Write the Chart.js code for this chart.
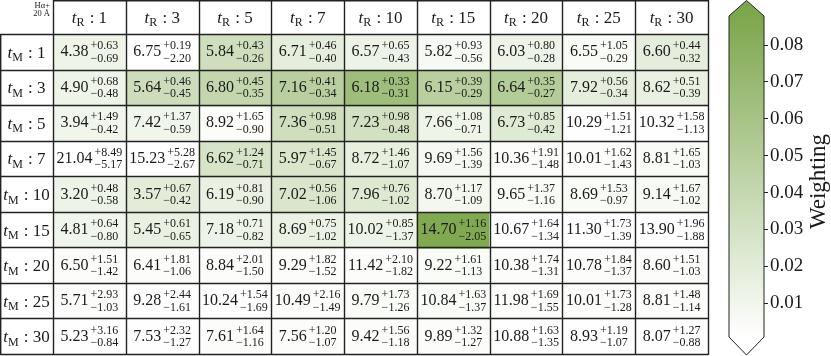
<!DOCTYPE html>
<html><head><meta charset="utf-8">
<script src="https://cdn.jsdelivr.net/npm/chart.js@4.4.1/dist/chart.umd.min.js"></script>
<style>
html,body{margin:0;padding:0;background:#fff;}
#wrap{position:relative;width:831px;height:356px;overflow:hidden;}
#main{position:absolute;left:0;top:0;}
#cb{position:absolute;left:700px;top:0;}
</style></head><body>
<div id="wrap">
<canvas id="main" width="831" height="356"></canvas>
<canvas id="cb" width="131" height="356"></canvas>
</div>
<script>
// ---- data ----
const tR = [1, 3, 5, 7, 10, 15, 20, 25, 30];
const tM = [1, 3, 5, 7, 10, 15, 20, 25, 30];
const values = [
  [4.38, 6.75, 5.84, 6.71, 6.57, 5.82, 6.03, 6.55, 6.60],
  [4.90, 5.64, 6.80, 7.16, 6.18, 6.15, 6.64, 7.92, 8.62],
  [3.94, 7.42, 8.92, 7.36, 7.23, 7.66, 6.73, 10.29, 10.32],
  [21.04, 15.23, 6.62, 5.97, 8.72, 9.69, 10.36, 10.01, 8.81],
  [3.20, 3.57, 6.19, 7.02, 7.96, 8.70, 9.65, 8.69, 9.14],
  [4.81, 5.45, 7.18, 8.69, 10.02, 14.70, 10.67, 11.30, 13.90],
  [6.50, 6.41, 8.84, 9.29, 11.42, 9.22, 10.38, 10.78, 8.60],
  [5.71, 9.28, 10.24, 10.49, 9.79, 10.84, 11.98, 10.01, 8.81],
  [5.23, 7.53, 7.61, 7.56, 9.42, 9.89, 10.88, 8.93, 8.07]
];
const errUp = [
  [0.63, 0.19, 0.43, 0.46, 0.65, 0.93, 0.80, 1.05, 0.44],
  [0.68, 0.46, 0.45, 0.41, 0.33, 0.39, 0.35, 0.56, 0.51],
  [1.49, 1.37, 1.65, 0.98, 0.98, 1.08, 0.85, 1.51, 1.58],
  [8.49, 5.28, 1.24, 1.45, 1.46, 1.56, 1.91, 1.62, 1.65],
  [0.48, 0.67, 0.81, 0.56, 0.76, 1.17, 1.37, 1.53, 1.67],
  [0.64, 0.61, 0.71, 0.75, 0.85, 1.16, 1.64, 1.73, 1.96],
  [1.51, 1.81, 2.01, 1.82, 2.10, 1.61, 1.74, 1.84, 1.51],
  [2.93, 2.44, 1.54, 2.16, 1.73, 1.63, 1.69, 1.73, 1.48],
  [3.16, 2.32, 1.64, 1.20, 1.56, 1.32, 1.63, 1.19, 1.27]
];
const errDown = [
  [0.69, 2.20, 0.26, 0.40, 0.43, 0.56, 0.28, 0.29, 0.32],
  [0.48, 0.45, 0.35, 0.34, 0.31, 0.29, 0.27, 0.34, 0.39],
  [0.42, 0.59, 0.90, 0.51, 0.48, 0.71, 0.42, 1.21, 1.13],
  [5.17, 2.67, 0.71, 0.67, 1.07, 1.39, 1.48, 1.43, 1.03],
  [0.58, 0.42, 0.90, 1.06, 1.02, 1.09, 1.16, 0.97, 1.02],
  [0.80, 0.65, 0.82, 1.02, 1.37, 2.05, 1.34, 1.39, 1.88],
  [1.42, 1.06, 1.50, 1.52, 1.82, 1.13, 1.31, 1.37, 1.03],
  [1.03, 1.61, 1.69, 1.49, 1.26, 1.37, 1.55, 1.28, 1.14],
  [0.84, 1.27, 1.16, 1.07, 1.18, 1.27, 1.35, 1.07, 0.88]
];
const weights = [
  [0.012, 0.001, 0.033, 0.018, 0.013, 0.006, 0.013, 0.005, 0.018],
  [0.012, 0.034, 0.041, 0.048, 0.065, 0.048, 0.051, 0.018, 0.015],
  [0.010, 0.010, 0.003, 0.033, 0.030, 0.012, 0.022, 0.002, 0.002],
  [0.000, 0.001, 0.028, 0.026, 0.017, 0.007, 0.003, 0.003, 0.005],
  [0.013, 0.020, 0.015, 0.026, 0.023, 0.009, 0.005, 0.005, 0.006],
  [0.010, 0.015, 0.013, 0.014, 0.013, 0.086, 0.002, 0.002, 0.001],
  [0.003, 0.003, 0.003, 0.003, 0.003, 0.004, 0.003, 0.003, 0.003],
  [0.003, 0.002, 0.002, 0.003, 0.004, 0.004, 0.003, 0.003, 0.003],
  [0.002, 0.002, 0.003, 0.003, 0.003, 0.003, 0.002, 0.002, 0.002]
];
const cbTicks = [0.01, 0.02, 0.03, 0.04, 0.05, 0.06, 0.07, 0.08];
const cMin = 0.0008, cMax = 0.0879;

// ---- style ----
const LOW = [255, 255, 255], HIGH = [125, 167, 77];
const FONT = '"Liberation Serif", "DejaVu Serif", serif';
const INK = '#1a1a1a';
function colorFor(w) {
  let t = (w - cMin) / (cMax - cMin);
  t = Math.max(0, Math.min(1, t));
  const c = LOW.map((l, k) => Math.round(l + (HIGH[k] - l) * t));
  return `rgb(${c[0]},${c[1]},${c[2]})`;
}
const fmt = v => v.toFixed(2);

function drawLabel(ctx, cx, baseY, sub, rest, size) {
  const fMain = `${size}px ${FONT}`, fIt = `italic ${size}px ${FONT}`, fSub = `${Math.round(size * 0.72)}px ${FONT}`;
  ctx.font = fIt; const wt = ctx.measureText('t').width;
  ctx.font = fSub; const ws = ctx.measureText(sub).width;
  ctx.font = fMain; const wr = ctx.measureText(' : ' + rest).width;
  const tot = wt + ws + 1 + wr;
  let x = cx - tot / 2;
  ctx.textAlign = 'left'; ctx.textBaseline = 'alphabetic'; ctx.fillStyle = INK;
  ctx.font = fIt; ctx.fillText('t', x, baseY); x += wt;
  ctx.font = fSub; ctx.fillText(sub, x, baseY + 3.5); x += ws + 1;
  ctx.font = fMain; ctx.fillText(' : ' + rest, x, baseY);
}

const tablePlugin = {
  id: 'table',
  afterDatasetsDraw(chart) {
    const ctx = chart.ctx, xs = chart.scales.x, ys = chart.scales.y;
    const ca = chart.chartArea;
    ctx.save();
    const fMain = `16px ${FONT}`, fScr = `12px ${FONT}`;
    for (let i = 0; i < tM.length; i++) {
      const cy = ys.getPixelForValue(i + 0.5);
      for (let j = 0; j < tR.length; j++) {
        const cx = xs.getPixelForValue(j);
        const m = fmt(values[i][j]), up = '+' + fmt(errUp[i][j]), dn = '\u2212' + fmt(errDown[i][j]);
        ctx.font = fMain; const wm = ctx.measureText(m).width;
        ctx.font = fScr; const wu = ctx.measureText(up).width, wd = ctx.measureText(dn).width;
        const gap = 2;
        const tot = wm + gap + Math.max(wu, wd);
        const x0 = cx - tot / 2;
        ctx.fillStyle = INK; ctx.textAlign = 'left'; ctx.textBaseline = 'alphabetic';
        ctx.font = fMain; ctx.fillText(m, x0, cy + 3.5);
        ctx.font = fScr;
        ctx.fillText(up, x0 + wm + gap, cy - 3.5);
        ctx.fillText(dn, x0 + wm + gap, cy + 9);
      }
      drawLabel(ctx, ca.left / 2, cy + 5, 'M', String(tM[i]), 17);
    }
    for (let j = 0; j < tR.length; j++) {
      drawLabel(ctx, xs.getPixelForValue(j), ca.top / 2 + 5, 'R', String(tR[j]), 17);
    }
    ctx.font = `8.5px ${FONT}`; ctx.textAlign = 'right'; ctx.fillStyle = INK;
    ctx.fillText('H\u03b1+', ca.left - 3, 8);
    ctx.fillText('20 \u00c5', ca.left - 3, 16);
    ctx.strokeStyle = '#222'; ctx.lineWidth = 1.4;
    ctx.beginPath();
    for (let i = 0; i <= tM.length; i++) {
      const y = Math.round(ys.getPixelForValue(i)) - 0.5;
      ctx.moveTo(0, y); ctx.lineTo(ca.right, y);
    }
    ctx.moveTo(ca.left, 0.7); ctx.lineTo(ca.right, 0.7);
    for (let j = 0; j <= tR.length; j++) {
      const x = Math.round(xs.getPixelForValue(j - 0.5)) + 0.5;
      ctx.moveTo(x, 0); ctx.lineTo(x, ca.bottom);
    }
    ctx.moveTo(0.7, ca.top); ctx.lineTo(0.7, ca.bottom);
    ctx.stroke();
    ctx.restore();
  }
};

new Chart(document.getElementById('main'), {
  type: 'bar',
  data: {
    labels: tR.map(String),
    datasets: tM.map((m, i) => ({
      label: 'tM ' + m,
      data: tR.map(() => [i, i + 1]),
      backgroundColor: weights[i].map(colorFor),
      borderWidth: 0,
      grouped: false,
      barPercentage: 1,
      categoryPercentage: 1
    }))
  },
  options: {
    responsive: false, animation: false, devicePixelRatio: 1,
    layout: { padding: { left: 53, right: 123, top: 35, bottom: 1 } },
    plugins: { legend: { display: false }, tooltip: { enabled: false } },
    scales: {
      x: { display: false, offset: true },
      y: { display: false, reverse: true, min: 0, max: tM.length }
    }
  },
  plugins: [tablePlugin]
});

const cbPlugin = {
  id: 'cbextras',
  afterDatasetsDraw(chart) {
    const ctx = chart.ctx, ca = chart.chartArea;
    ctx.save();
    const l = ca.left, r = ca.right, mid = (l + r) / 2;
    ctx.fillStyle = colorFor(cMax + 1);
    ctx.beginPath(); ctx.moveTo(l, ca.top); ctx.lineTo(mid, 0.5); ctx.lineTo(r, ca.top); ctx.closePath(); ctx.fill();
    ctx.fillStyle = '#fff';
    ctx.beginPath(); ctx.moveTo(l, ca.bottom); ctx.lineTo(mid, chart.height - 1); ctx.lineTo(r, ca.bottom); ctx.closePath(); ctx.fill();
    ctx.strokeStyle = '#222'; ctx.lineWidth = 1;
    ctx.beginPath();
    ctx.moveTo(mid, 0.5); ctx.lineTo(r, ca.top); ctx.lineTo(r, ca.bottom); ctx.lineTo(mid, chart.height - 1);
    ctx.lineTo(l, ca.bottom); ctx.lineTo(l, ca.top); ctx.closePath();
    ctx.stroke();
    ctx.translate(chart.width - 12, (ca.top + ca.bottom) / 2 + 5);
    ctx.rotate(-Math.PI / 2);
    ctx.font = `23px ${FONT}`; ctx.fillStyle = INK; ctx.textAlign = 'center'; ctx.textBaseline = 'middle';
    ctx.fillText('Weighting', 0, 0);
    ctx.restore();
  }
};

new Chart(document.getElementById('cb'), {
  type: 'bar',
  data: {
    labels: ['cb'],
    datasets: [{
      data: [[cMin, cMax]],
      borderWidth: 0,
      barPercentage: 1, categoryPercentage: 1,
      backgroundColor(c) {
        const ch = c.chart, ys = ch.scales.y;
        if (!ch.chartArea || !ys) return 'rgba(0,0,0,0)';
        const g = ch.ctx.createLinearGradient(0, ys.getPixelForValue(cMin), 0, ys.getPixelForValue(cMax));
        g.addColorStop(0, colorFor(cMin));
        g.addColorStop(0.5, colorFor((cMin + cMax) / 2));
        g.addColorStop(1, colorFor(cMax));
        return g;
      }
    }]
  },
  options: {
    responsive: false, animation: false, devicePixelRatio: 1,
    layout: { padding: { left: 29, right: 0, top: 16, bottom: 19 } },
    plugins: { legend: { display: false }, tooltip: { enabled: false } },
    scales: {
      x: { display: false, offset: true },
      y: {
        position: 'right', min: cMin, max: cMax,
        afterBuildTicks(s) { s.ticks = cbTicks.map(v => ({ value: v })); },
        afterFit(s) { s.width = 67; },
        border: { display: false },
        grid: { drawOnChartArea: false, drawTicks: true, tickLength: 4, color: '#222', tickWidth: 1 },
        ticks: { padding: 2, color: INK, font: { family: FONT, size: 19 }, callback: v => Number(v).toFixed(2) }
      }
    }
  },
  plugins: [cbPlugin]
});
</script>
</body></html>
